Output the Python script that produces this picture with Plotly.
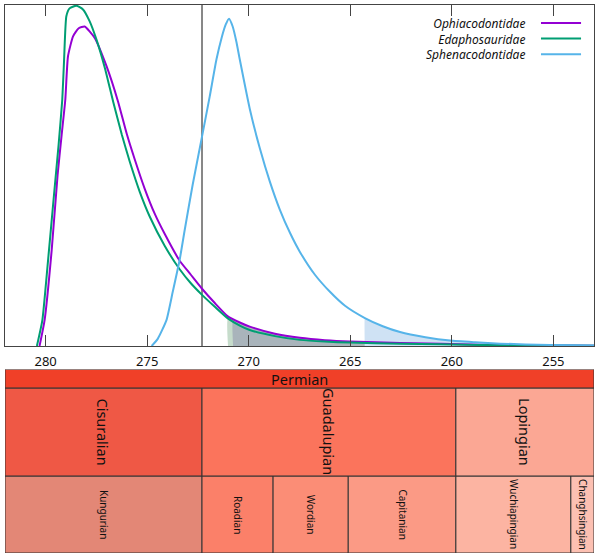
import numpy as np
import plotly.graph_objects as go

# ---------------- data ----------------
x_range = [282, 253]
tick_vals = [280, 275, 270, 265, 260, 255]

series_names = ["Ophiacodontidae", "Edaphosauridae", "Sphenacodontidae"]
series_colors = ["#9400D3", "#009E73", "#56B4E9"]

ophia_ma = [280.30, 280.05, 279.70, 279.41, 279.21, 279.03, 278.90, 278.65, 278.37, 278.08,
            277.59, 277.01, 276.44, 276.01, 275.61, 275.12, 274.63, 274.14, 273.40, 272.85,
            272.30, 271.67, 271.03, 270.44, 269.95, 268.71, 267.48, 266.25, 265.02, 262.55,
            258.61, 252.99]
ophia_y = [0.0, 0.076, 0.282, 0.502, 0.620, 0.723, 0.849, 0.908, 0.932, 0.937,
           0.904, 0.822, 0.718, 0.623, 0.547, 0.461, 0.388, 0.329, 0.250, 0.209,
           0.168, 0.126, 0.087, 0.069, 0.057, 0.036, 0.024, 0.017, 0.013, 0.009,
           0.004, 0.001]

edapho_ma = [280.43, 280.16, 279.90, 279.61, 279.36, 279.18, 279.09, 278.98, 278.82, 278.49,
             278.16, 277.83, 277.50, 277.09, 276.68, 276.25, 275.86, 275.37, 274.87, 274.14,
             273.40, 272.85, 272.30, 271.67, 271.03, 270.44, 269.95, 268.71, 267.48, 266.25,
             265.02, 262.55, 258.61, 252.99]
edapho_y = [0.0, 0.076, 0.238, 0.429, 0.591, 0.723, 0.840, 0.967, 0.990, 0.998,
            0.987, 0.952, 0.899, 0.817, 0.718, 0.620, 0.541, 0.453, 0.379, 0.294,
            0.225, 0.184, 0.150, 0.115, 0.081, 0.060, 0.047, 0.029, 0.018, 0.013,
            0.010, 0.007, 0.003, 0.001]

spheno_ma = [274.78, 274.48, 274.05, 273.74, 273.40, 273.15, 272.76, 272.30, 271.92, 271.59,
             271.33, 271.13, 270.97, 270.79, 270.61, 270.44, 269.95, 269.45, 268.96, 268.47,
             267.97, 267.48, 266.74, 266.00, 265.26, 264.28, 263.40, 262.55, 261.30, 260.09,
             258.85, 257.62, 255.16, 252.99]
spheno_y = [0.0, 0.021, 0.076, 0.159, 0.253, 0.341, 0.473, 0.614, 0.732, 0.840,
            0.905, 0.943, 0.960, 0.937, 0.893, 0.840, 0.696, 0.579, 0.482, 0.400,
            0.332, 0.276, 0.209, 0.159, 0.118, 0.082, 0.058, 0.041, 0.026, 0.016,
            0.011, 0.007, 0.003, 0.0015]

# start of shaded tail for each series (Ma)
shade_start = [270.77, 271.02, 264.29]
shade_colors = ["#a9b4bb", "#c6dccb", "#cfe2f4"]

# geologic time scale (Ma)
period_names = ["Permian"]
period_start = [298.9]
period_end = [252.17]
period_colors = ["#F04028"]

epoch_names = ["Cisuralian", "Guadalupian", "Lopingian"]
epoch_start = [298.9, 272.3, 259.8]
epoch_end = [272.3, 259.8, 252.17]
epoch_colors = ["#EF5845", "#FB745C", "#FBA794"]

stage_names = ["Kungurian", "Roadian", "Wordian", "Capitanian", "Wuchiapingian", "Changhsingian"]
stage_start = [283.5, 272.3, 268.8, 265.1, 259.8, 254.14]
stage_end = [272.3, 268.8, 265.1, 259.8, 254.14, 252.17]
stage_colors = ["#E38776", "#FB8069", "#FB8D76", "#FB9A85", "#FCB4A2", "#FCC0B2"]

# ---------------- figure ----------------
FONT = "Noto Sans"
SMOOTH = 0.5
series_ma = [ophia_ma, edapho_ma, spheno_ma]
series_y = [ophia_y, edapho_y, spheno_y]

fig = go.Figure()

# shaded tails (green first, then grey, then blue)
for i in [1, 0, 2]:
    ma = np.array(series_ma[i]); yy = np.array(series_y[i])
    s = shade_start[i]
    y0 = float(np.interp(s, ma[::-1], yy[::-1]))
    mask = ma < s
    fx = [s, s] + list(ma[mask])
    fy = [0.0, y0] + list(yy[mask])
    fig.add_trace(go.Scatter(x=fx, y=fy, mode="lines", fill="tozeroy",
                             fillcolor=shade_colors[i],
                             line=dict(width=0, shape="spline", smoothing=SMOOTH),
                             hoverinfo="skip", showlegend=False, xaxis="x", yaxis="y"))

# curves
for i in range(3):
    fig.add_trace(go.Scatter(x=series_ma[i], y=series_y[i], mode="lines", name=series_names[i],
                             line=dict(color=series_colors[i], width=2, shape="spline",
                                       smoothing=SMOOTH),
                             showlegend=False, xaxis="x", yaxis="y"))

shapes = []
annotations = []

# boundary line Cisuralian / Guadalupian
shapes.append(dict(type="line", xref="x", yref="y domain", x0=epoch_end[0], x1=epoch_end[0],
                   y0=0, y1=1, line=dict(color="#111", width=1), layer="below"))

# manual legend: one right-aligned multi-line text, sample lines to its right
LEG_FS = 12
leg_center = 0.9388
line_step = 1.3 * LEG_FS / 548.0
annotations.append(dict(xref="paper", yref="paper", x=0.887, y=leg_center, xanchor="right",
                        yanchor="middle", align="right", showarrow=False,
                        text="<br>".join("<i>%s</i>" % n for n in series_names),
                        font=dict(family=FONT, size=LEG_FS, color="#111")))
for i in range(3):
    yl = leg_center + (1 - i) * line_step
    shapes.append(dict(type="line", xref="paper", yref="paper", x0=0.910, x1=0.978,
                       y0=yl, y1=yl, line=dict(color=series_colors[i], width=2)))

# time scale panel
lo, hi = min(x_range), max(x_range)
rows = [(0, 77, stage_names, stage_start, stage_end, stage_colors, 10),
        (77, 165, epoch_names, epoch_start, epoch_end, epoch_colors, 14.5),
        (165, 183.5, period_names, period_start, period_end, period_colors, 14.5)]
for (r0, r1, names, st, en, cols, fs) in rows:
    for n, a, b, c in zip(names, st, en, cols):
        xa = min(a, hi); xb = max(b, lo)
        shapes.append(dict(type="rect", xref="x2", yref="y2", x0=xa, x1=xb, y0=r0, y1=r1,
                           fillcolor=c, line=dict(color="#333", width=1), layer="below"))
        annotations.append(dict(xref="x2", yref="y2", x=(xa + xb) / 2, y=(r0 + r1) / 2,
                                text=n, showarrow=False, textangle=0 if r0 >= 165 else 90,
                                font=dict(family=FONT, size=fs, color="#111")))

fig.update_layout(
    width=600, height=557,
    margin=dict(l=5, r=6, t=5, b=4),
    paper_bgcolor="white", plot_bgcolor="white",
    shapes=shapes, annotations=annotations,
    xaxis=dict(domain=[0, 1], range=x_range, anchor="y", tickvals=tick_vals,
               ticks="inside", ticklen=11, tickwidth=1, tickcolor="#444", mirror="ticks",
               showline=True, linecolor="#444", linewidth=1.3, showgrid=False, zeroline=False,
               ticklabelstandoff=3,
               tickfont=dict(family=FONT, size=13, color="#111")),
    yaxis=dict(domain=[0.3777, 1], range=[0, 1.0], anchor="x", showticklabels=False, ticks="",
               showline=True, mirror=True, linecolor="#444", linewidth=1.3,
               showgrid=False, zeroline=False),
    xaxis2=dict(domain=[0, 1], range=x_range, anchor="y2", visible=False),
    yaxis2=dict(domain=[0, 0.3349], range=[0, 183.5], anchor="x2", visible=False),
)

fig.write_html("out.html", config={"displayModeBar": False},
               post_script="document.body.style.margin='0';document.body.style.padding='0';")
